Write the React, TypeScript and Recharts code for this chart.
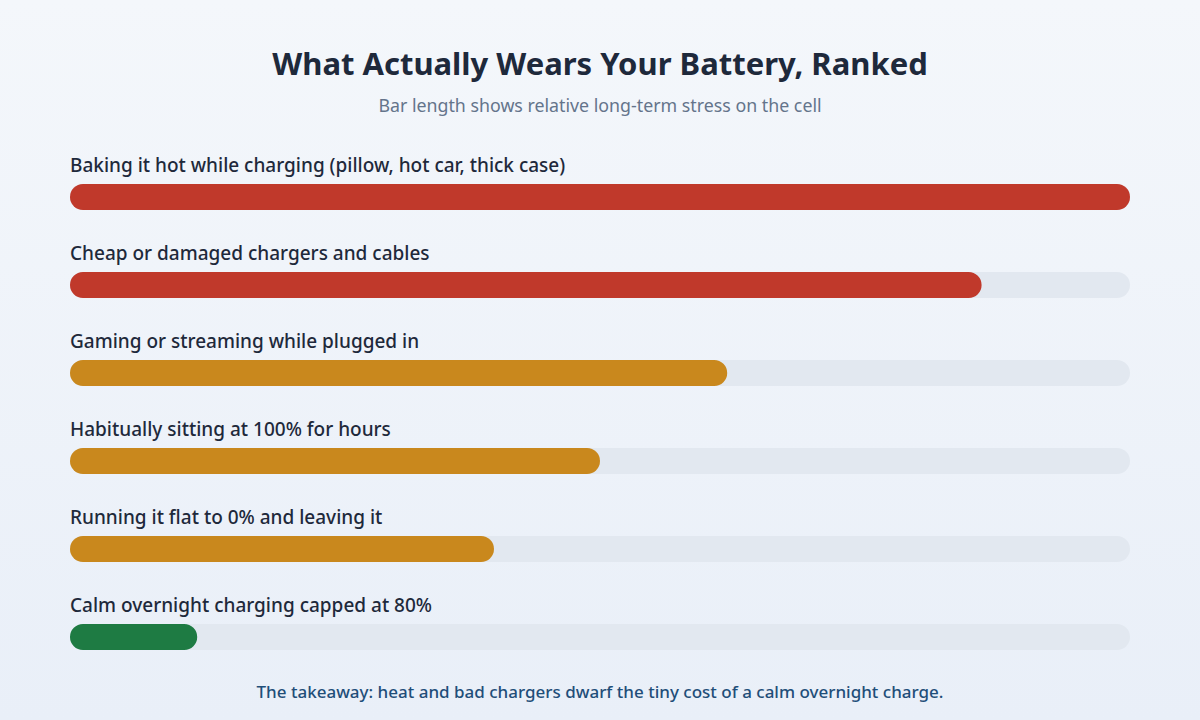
import { Bar, BarChart, Cell, LabelList, XAxis, YAxis } from 'recharts';

const causes = [
    'Baking it hot while charging (pillow, hot car, thick case)',
    'Cheap or damaged chargers and cables',
    'Gaming or streaming while plugged in',
    'Habitually sitting at 100% for hours',
    'Running it flat to 0% and leaving it',
    'Calm overnight charging capped at 80%',
];
const stress = [100, 86, 62, 50, 40, 12];
const barColors = ['#c0392b', '#c0392b', '#c9881d', '#c9881d', '#c9881d', '#1e7b43'];

const data = causes.map((name, i) => ({ name, value: stress[i] }));

const font = '"Noto Sans", "Open Sans", sans-serif';

function AboveLabel(props: any) {
    const { x, y, value } = props;
    return (
        <text x={x} y={y - 12} fill="#1e293b" fontSize={19} fontWeight={500} fontFamily={font}>
            {value}
        </text>
    );
}

export default function App() {
    return (
        <div
            style={{
                position: 'absolute',
                left: 0,
                top: 0,
                width: 1200,
                height: 720,
                background: 'linear-gradient(180deg, #f4f7fb 0%, #e9eff8 100%)',
                fontFamily: font,
                overflow: 'hidden',
            }}
        >
            <div
                style={{
                    position: 'absolute',
                    top: 42,
                    width: 1200,
                    textAlign: 'center',
                    fontSize: 31,
                    fontWeight: 700,
                    color: '#1e293b',
                }}
            >
                What Actually Wears Your Battery, Ranked
            </div>
            <div
                style={{
                    position: 'absolute',
                    top: 93,
                    width: 1200,
                    textAlign: 'center',
                    fontSize: 17.8,
                    color: '#64748b',
                }}
            >
                Bar length shows relative long-term stress on the cell
            </div>
            <div style={{ position: 'absolute', left: 0, top: 0 }}>
                <BarChart
                    width={1200}
                    height={720}
                    data={data}
                    layout="vertical"
                    margin={{ top: 153, right: 70, bottom: 39, left: 70 }}
                >
                    <XAxis type="number" domain={[0, 100]} hide />
                    <YAxis type="category" dataKey="name" hide />
                    <Bar
                        dataKey="value"
                        barSize={26}
                        radius={13}
                        background={{ fill: '#e2e8f0', radius: 13 }}
                        isAnimationActive={false}
                    >
                        {data.map((d, i) => (
                            <Cell key={d.name} fill={barColors[i]} />
                        ))}
                        <LabelList dataKey="name" content={AboveLabel} />
                    </Bar>
                </BarChart>
            </div>
            <div
                style={{
                    position: 'absolute',
                    top: 680,
                    width: 1200,
                    textAlign: 'center',
                    fontSize: 17,
                    fontWeight: 500,
                    color: '#1f4e79',
                }}
            >
                The takeaway: heat and bad chargers dwarf the tiny cost of a calm overnight charge.
            </div>
        </div>
    );
}
